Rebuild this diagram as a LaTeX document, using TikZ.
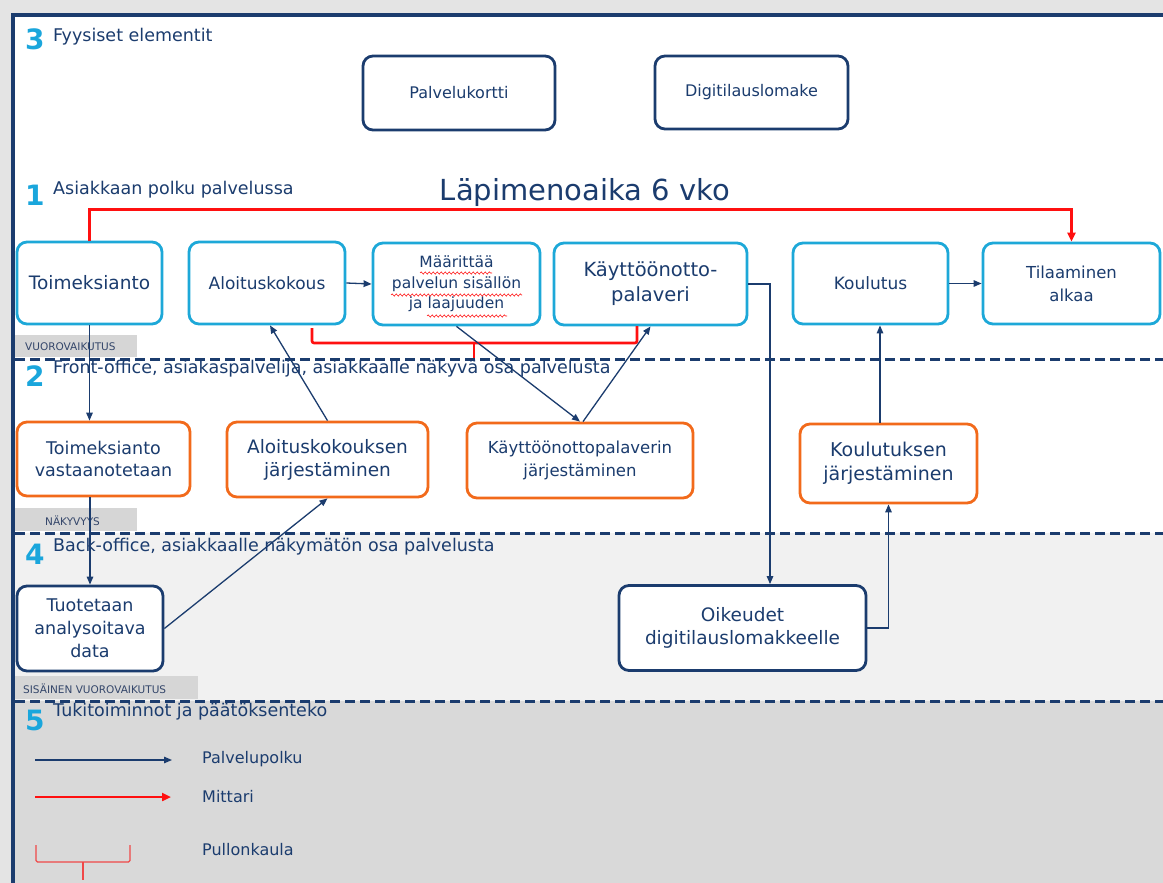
\documentclass[tikz,border=0pt]{standalone}
\usepackage{fontspec}
\setmainfont{DejaVu Sans}
\usetikzlibrary{arrows.meta,calc,decorations.pathmorphing}
\definecolor{navy}{HTML}{1B3C6E}
\definecolor{cyanb}{HTML}{1DA8D8}
\definecolor{orangeb}{HTML}{F26A1B}
\definecolor{digitc}{HTML}{1AA6DC}
\definecolor{redm}{HTML}{FF1010}
\definecolor{redl}{HTML}{F04848}
\definecolor{bandA}{HTML}{F1F1F1}
\definecolor{bandB}{HTML}{D9D9D9}
\definecolor{marginc}{HTML}{E4E4E4}
\definecolor{tabc}{HTML}{D6D6D6}
\definecolor{tabtext}{HTML}{34466A}
\begin{document}
\begin{tikzpicture}[x=1pt,y=-1pt,
  box/.style={draw, rounded corners=10pt, line width=2.8pt, fill=white, align=center,
    text=navy, inner sep=2pt},
  cbox/.style={box, draw=cyanb},
  obox/.style={box, draw=orangeb},
  nbox/.style={box, draw=navy},
  flow/.style={draw=navy, line width=1.3pt, -{Triangle[length=8pt,width=6.5pt]}},
  meter/.style={draw=redm, line width=2.6pt, -{Triangle[length=9pt,width=8pt]}},
  sep/.style={draw=navy, line width=3pt, dash pattern=on 10pt off 5pt},
  tab/.style={fill=tabc, draw=none},
  tablabel/.style={text=tabtext, font=\fontsize{10.5}{12}\selectfont, anchor=west, inner sep=0pt},
  digit/.style={text=digitc, font=\fontsize{28}{30}\selectfont\bfseries, anchor=west, inner sep=0pt},
  heading/.style={text=navy, font=\fontsize{17.5}{20}\selectfont, anchor=west, inner sep=0pt},
  legend/.style={text=navy, font=\fontsize{16}{18}\selectfont, anchor=west, inner sep=0pt},
  squiggle/.style={draw=redm, line width=0.6pt, decorate,
    decoration={snake, amplitude=1.1pt, segment length=4pt}}
]
\useasboundingbox (0,0) rectangle (1163,883);

% page margin and the three bands
\fill[marginc] (0,0) rectangle (1163,883);
\fill[white] (12,15) rectangle (1163,533);
\fill[bandA] (12,533) rectangle (1163,701);
\fill[bandB] (12,701) rectangle (1163,883);
\draw[navy, line width=4pt] (12.5,883) -- (12.5,15) -- (1163,15);

% band separators
\draw[sep] (15,359) -- (1163,359);
\draw[sep] (15,533) -- (1163,533);
\draw[sep] (15,701) -- (1163,701);

% separator tabs
\fill[tab] (15,335) rectangle (137,357);
\node[tablabel] (tabA) at (25,347) {VUOROVAIKUTUS};
\fill[tab] (15,508) rectangle (137,531);
\node[tablabel] (tabB) at (45,521) {NÄKYVYYS};
\fill[tab] (15,676) rectangle (198,699);
\node[tablabel] (tabC) at (23,689) {SISÄINEN VUOROVAIKUTUS};

% band headings
\node[digit] (d3) at (25,39) {3};
\node[heading] (h3) at (53,37) {Fyysiset elementit};
\node[digit] (d1) at (25,195) {1};
\node[heading] (h1) at (53,190) {Asiakkaan polku palvelussa};
\node[digit] (d2) at (25,376) {2};
\node[heading] (h2) at (53,369) {Front-office, asiakaspalvelija, asiakkaalle näkyvä osa palvelusta};
\node[digit] (d4) at (25,554) {4};
\node[heading] (h4) at (53,547) {Back-office, asiakkaalle näkymätön osa palvelusta};
\node[digit] (d5) at (25,720) {5};
\node[heading] (h5) at (53,712) {Tukitoiminnot ja päätöksenteko};

\node[text=navy, font=\fontsize{29}{32}\selectfont, inner sep=0pt] (lead) at (585,192) {Läpimenoaika 6 vko};

% physical elements
\node[nbox, font=\fontsize{16}{20}\selectfont, minimum width=192pt, minimum height=74pt] (kortti) at (459,93) {Palvelukortti};
\node[nbox, font=\fontsize{16}{20}\selectfont, minimum width=193pt, minimum height=73pt] (lomake) at (751.5,92.5) {Digitilauslomake};

% customer journey
\node[cbox, font=\fontsize{18.5}{23}\selectfont, minimum width=145pt, minimum height=82pt] (toim) at (89.5,283) {Toimeksianto};
\node[cbox, font=\fontsize{17}{21}\selectfont, minimum width=156pt, minimum height=82pt] (alo) at (267,283) {Aloituskokous};
\node[cbox, font=\fontsize{15.5}{20.5}\selectfont, minimum width=167pt, minimum height=82pt] (maar) at (456.5,284) {Määrittää\\palvelun sisällön\\ja laajuuden};
\node[cbox, font=\fontsize{19.5}{25}\selectfont, minimum width=193pt, minimum height=82pt] (kayt) at (650.5,284) {Käyttöönotto-\\palaveri};
\node[cbox, font=\fontsize{17}{21}\selectfont, minimum width=155pt, minimum height=81pt] (koul) at (870.5,283.5) {Koulutus};
\node[cbox, font=\fontsize{16.5}{23}\selectfont, minimum width=177pt, minimum height=81pt] (til) at (1071.5,283.5) {Tilaaminen\\alkaa};

% front office
\node[obox, font=\fontsize{17.5}{22.5}\selectfont, minimum width=173pt, minimum height=74pt] (tv) at (103.5,459) {Toimeksianto\\vastaanotetaan};
\node[obox, font=\fontsize{18.5}{23}\selectfont, minimum width=201pt, minimum height=75pt] (aloj) at (327.5,459.5) {Aloituskokouksen\\järjestäminen};
\node[obox, font=\fontsize{16.5}{23}\selectfont, minimum width=226pt, minimum height=75pt] (kpj) at (580,460.5) {Käyttöönottopalaverin\\järjestäminen};
\node[obox, font=\fontsize{19}{24}\selectfont, minimum width=177pt, minimum height=79pt] (kj) at (888.5,463.5) {Koulutuksen\\järjestäminen};

% back office
\node[nbox, font=\fontsize{17.5}{23}\selectfont, minimum width=146pt, minimum height=85pt] (tuot) at (90,628.5) {Tuotetaan\\analysoitava\\data};
\node[nbox, font=\fontsize{18.5}{23}\selectfont, minimum width=247pt, minimum height=85pt] (oik) at (742.5,628) {Oikeudet\\digitilauslomakkeelle};

% spelling marks under the three text lines
\draw[squiggle] (420,273) -- (492,273);
\draw[squiggle] (391,295) -- (522,295);
\draw[squiggle] (427,316) -- (507,316);

% lead time metric
\draw[meter] (toim.north) -- ++(0,-31) -| (til.north);

% bottleneck bracket
\draw[redm, line width=2.6pt, rounded corners=2pt] (312,328) -- (312,343) -- (637,343) -- (637,326);
\draw[redm, line width=2.6pt] (474,343) -- (474,358);

% service path
\draw[flow] (toim.south) -- (toim.south |- tv.north);
\draw[flow] (tuot.north |- tv.south) -- (tuot.north);
\draw[flow] (alo.east) -- (maar.west);
\draw[flow] (aloj.north) -- ([xshift=3pt]alo.south);
\draw[flow] (tuot.east) -- (aloj.south);
\draw[flow] (maar.south) -- (kpj.north);
\draw[flow] ([xshift=3pt]kpj.north) -- (kayt.south);
\draw[flow] (kayt.east) -| ($(oik.north)+(27.5,0)$);
\draw[flow] (oik.east) -| (kj.south);
\draw[flow] ($(kj.north)+(-8.5,0)$) -- ($(koul.south)+(9.5,0)$);
\draw[flow] (koul.east) -- (til.west);

% legend
\coordinate (lgA) at (35,760);
\coordinate (lgB) at (35,797);
\node[legend] (lpath) at (202,759) {Palvelupolku};
\node[legend] (lmeter) at (202,797) {Mittari};
\node[legend] (lneck) at (202,850) {Pullonkaula};
\draw[flow] (lgA) -- (172,760);
\draw[meter] (lgB) -- (171,797);
\draw[redl, line width=1.4pt, rounded corners=1.5pt] (36,845) -- (36,862) -- (130,862) -- (130,845);
\draw[redl, line width=1.4pt] (83,862) -- (83,880);
\end{tikzpicture}
\end{document}
